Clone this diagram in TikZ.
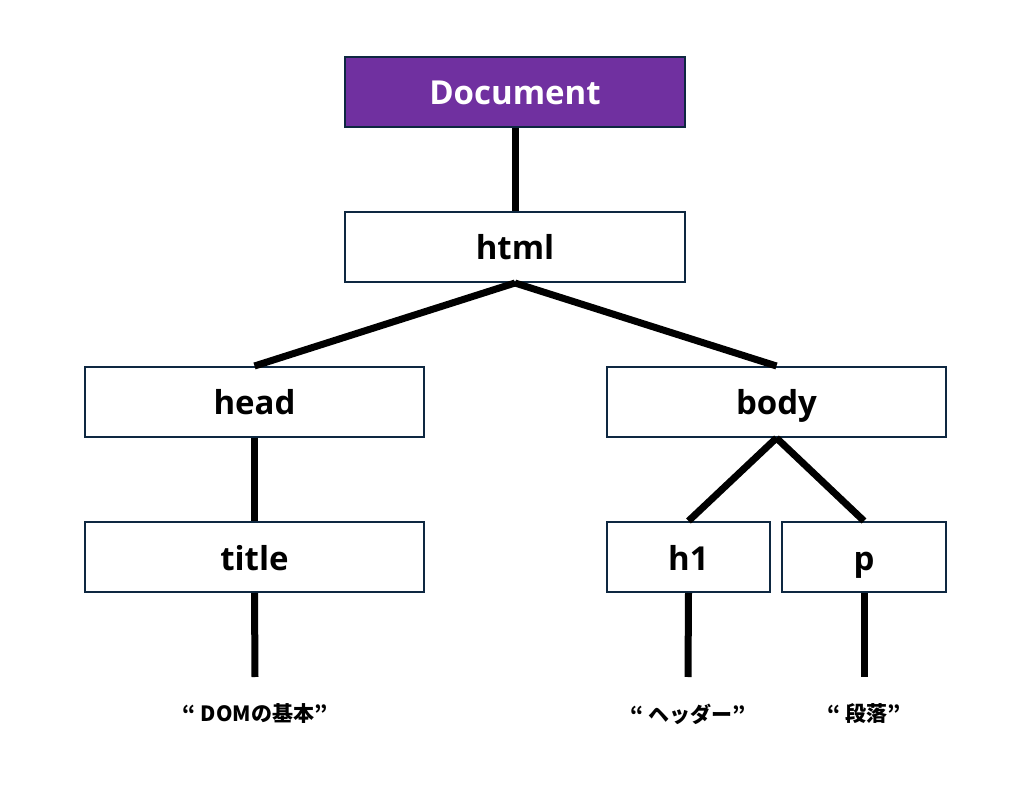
\documentclass[tikz,border=0pt]{standalone}
\usepackage{fontspec}
\setmainfont{Open Sans}
\newfontfamily\cjk{Noto Sans CJK JP}
\definecolor{boxline}{HTML}{0E2841}
\definecolor{docpurple}{HTML}{7030A0}
\begin{document}
\begin{tikzpicture}[x=1pt,y=-1pt,
  box/.style={draw=boxline,line width=2pt,fill=white,minimum height=70pt,inner sep=0pt,text height=26pt,text depth=0pt,font=\fontsize{33}{38}\selectfont\bfseries},
  conn/.style={line width=7pt,black},
  leaf/.style={inner sep=0pt,font=\cjk\fontsize{21}{25}\selectfont\bfseries}]
\useasboundingbox (0,0) rectangle (1029,802);
\node[box,fill=docpurple,text=white,minimum width=340pt] (doc) at (515,92) {Document};
\node[box,minimum width=340pt] (html) at (515,247) {html};
\node[box,minimum width=339pt] (head) at (254.5,402) {head};
\node[box,minimum width=339pt] (body) at (776.5,402) {body};
\node[box,minimum width=339pt] (title) at (254.5,557) {title};
\node[box,minimum width=163pt] (h1) at (688.5,557) {h1};
\node[box,minimum width=164pt] (p) at (864,557) {p};
\coordinate (t1) at (255,677);
\coordinate (t2) at (688,677);
\coordinate (t3) at (864,677);
\node[leaf] (l1) at (255,714) {“\ DOMの基本”};
\node[leaf] (l2) at (688,714) {“\ ヘッダー”};
\node[leaf] (l3) at (864,714) {“\ 段落”};
\draw[conn] (doc.south) -- (html.north);
\draw[conn] (html.south) -- (head.north);
\draw[conn] (html.south) -- (body.north);
\draw[conn] (head.south) -- (title.north);
\draw[conn] (body.south) -- (h1.north);
\draw[conn] (body.south) -- (p.north);
\draw[conn] (title.south) -- (t1);
\draw[conn] (h1.south) -- (t2);
\draw[conn] (p.south) -- (t3);
\end{tikzpicture}
\end{document}
